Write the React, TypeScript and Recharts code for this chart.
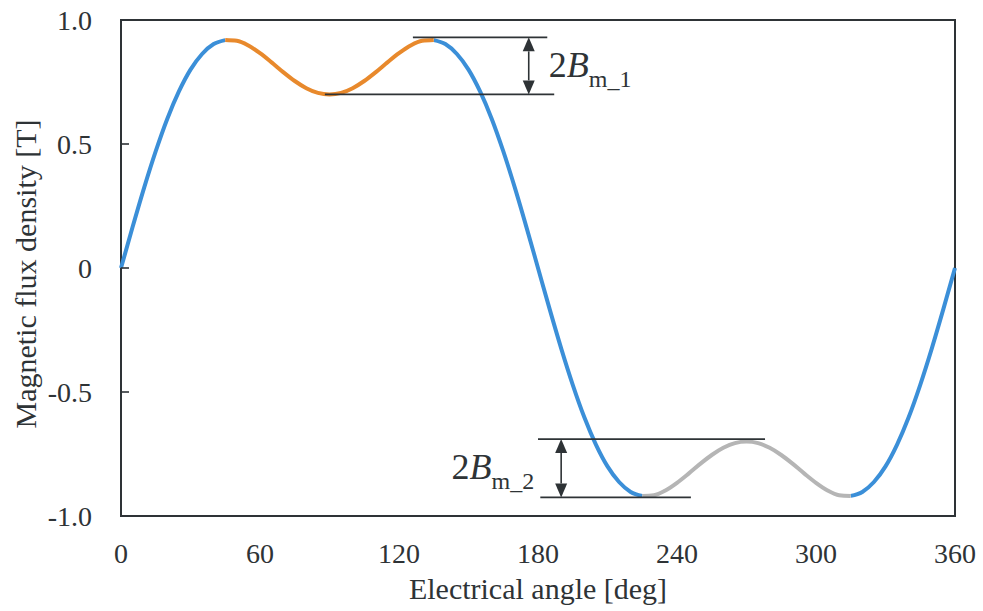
import React from "react";
import {
  LineChart,
  Line,
  XAxis,
  YAxis,
  ReferenceLine,
  ReferenceArea,
} from "recharts";

// Electrical angle samples [deg]
const angles = [
  0, 5, 10, 15, 20, 25, 30, 35, 40, 45, 50, 55, 60, 65, 70, 75, 80, 85, 90,
  95, 100, 105, 110, 115, 120, 125, 130, 135, 140, 145, 150, 155, 160, 165,
  170, 175, 180, 185, 190, 195, 200, 205, 210, 215, 220, 225, 230, 235, 240,
  245, 250, 255, 260, 265, 270, 275, 280, 285, 290, 295, 300, 305, 310, 315,
  320, 325, 330, 335, 340, 345, 350, 355, 360,
];

// Magnetic flux density [T] at each angle
const flux = [
  0, 0.165, 0.324, 0.471, 0.602, 0.712, 0.8, 0.863, 0.903, 0.919, 0.916,
  0.897, 0.866, 0.829, 0.79, 0.754, 0.725, 0.706, 0.7, 0.706, 0.725, 0.754,
  0.79, 0.829, 0.866, 0.897, 0.916, 0.919, 0.903, 0.863, 0.8, 0.712, 0.602,
  0.471, 0.324, 0.165, 0, -0.165, -0.324, -0.471, -0.602, -0.712, -0.8,
  -0.863, -0.903, -0.919, -0.916, -0.897, -0.866, -0.829, -0.79, -0.754,
  -0.725, -0.706, -0.7, -0.706, -0.725, -0.754, -0.79, -0.829, -0.866,
  -0.897, -0.916, -0.919, -0.903, -0.863, -0.8, -0.712, -0.602, -0.471,
  -0.324, -0.165, 0,
];

// Highlighted ripple ranges [deg]
const upperRipple = [45, 135];
const lowerRipple = [225, 315];

const xTicks = [0, 60, 120, 180, 240, 300, 360];
const yTicks = [-1, -0.5, 0, 0.5, 1];

// Ripple amplitude guide levels [T] and their extents [deg]
const upperGuide = { top: 0.93, bottom: 0.7, topFrom: 126, topTo: 184, bottomFrom: 88, bottomTo: 187, arrowAt: 176 };
const lowerGuide = { top: -0.69, bottom: -0.925, topFrom: 180, topTo: 278, bottomFrom: 181, bottomTo: 246, arrowAt: 190 };

const BLUE = "#3b8fd8";
const ORANGE = "#e8892c";
const GRAY = "#b5b5b5";
const INK = "#2e3336";
const FONT = "'Liberation Serif', 'Times New Roman', serif";

const inRange = (a: number, r: number[]) => a >= r[0] && a <= r[1];

const rows = angles.map((a, i) => {
  const v = flux[i];
  const up = inRange(a, upperRipple);
  const low = inRange(a, lowerRipple);
  const base = !up && !low || a === upperRipple[0] || a === upperRipple[1] || a === lowerRipple[0] || a === lowerRipple[1];
  return {
    angle: a,
    base: base ? v : null,
    upper: up ? v : null,
    lower: low ? v : null,
  };
});

const yFormat = (v: number) => (v === 0 ? "0" : v.toFixed(1));

const makeArrow = (sub: string, side: "right" | "left") => (props: any) => {
  const { x1, y1, y2 } = props;
  const top = Math.min(y1, y2);
  const bot = Math.max(y1, y2);
  const hw = 6;
  const hh = 14;
  const mid = (top + bot) / 2;
  const tx = side === "right" ? x1 + 20 : x1 - 27;
  return (
    <g>
      <line x1={x1} y1={top + hh} x2={x1} y2={bot - hh} stroke={INK} strokeWidth={1.6} />
      <polygon points={`${x1},${top} ${x1 - hw},${top + hh} ${x1 + hw},${top + hh}`} fill={INK} />
      <polygon points={`${x1},${bot} ${x1 - hw},${bot - hh} ${x1 + hw},${bot - hh}`} fill={INK} />
      <text
        x={tx}
        y={mid + 11}
        fontFamily={FONT}
        fontSize={36}
        fill={INK}
        textAnchor={side === "right" ? "start" : "end"}
      >
        <tspan>2</tspan>
        <tspan fontStyle="italic">B</tspan>
        <tspan fontSize={24} dy={10}>{sub}</tspan>
      </text>
    </g>
  );
};

const XTitle = (props: any) => {
  const { viewBox } = props;
  return (
    <text
      x={viewBox.x + viewBox.width / 2}
      y={viewBox.y + 83}
      textAnchor="middle"
      fontFamily={FONT}
      fontSize={30}
      fill={INK}
    >
      Electrical angle [deg]
    </text>
  );
};

const YTitle = (props: any) => {
  const { viewBox } = props;
  const cx = viewBox.x + 36;
  const cy = viewBox.y + viewBox.height / 2 + 6;
  return (
    <text
      x={cx}
      y={cy}
      transform={`rotate(-90, ${cx}, ${cy})`}
      textAnchor="middle"
      fontFamily={FONT}
      fontSize={30}
      fill={INK}
    >
      Magnetic flux density [T]
    </text>
  );
};

export default function App() {
  return (
    <div style={{ position: "absolute", left: 0, top: 0, width: 983, height: 611, background: "#fff" }}>
      <LineChart
        width={983}
        height={611}
        data={rows}
        margin={{ top: 20, right: 28, left: 0, bottom: 0 }}
      >
        <XAxis
          dataKey="angle"
          type="number"
          domain={[0, 360]}
          ticks={xTicks}
          height={95}
          axisLine={false}
          tickLine={false}
          tickSize={0}
          tickMargin={27}
          tick={{ fontFamily: FONT, fontSize: 28, fill: INK }}
          label={<XTitle />}
        />
        <YAxis
          type="number"
          domain={[-1, 1]}
          ticks={yTicks}
          width={121}
          axisLine={false}
          tickLine={{ stroke: INK, strokeWidth: 1.6 }}
          tickSize={-8}
          tickMargin={37}
          tickFormatter={yFormat}
          tick={{ fontFamily: FONT, fontSize: 28, fill: INK }}
          label={<YTitle />}
        />
        <ReferenceArea
          x1={0}
          x2={360}
          y1={-1}
          y2={1}
          fill="none"
          stroke={INK}
          strokeWidth={2}
        />
        <Line dataKey="base" type="monotone" stroke={BLUE} strokeWidth={4} dot={false} isAnimationActive={false} connectNulls={false} />
        <Line dataKey="upper" type="monotone" stroke={ORANGE} strokeWidth={4} dot={false} isAnimationActive={false} connectNulls={false} />
        <Line dataKey="lower" type="monotone" stroke={GRAY} strokeWidth={4} dot={false} isAnimationActive={false} connectNulls={false} />

        <ReferenceLine
          segment={[{ x: upperGuide.topFrom, y: upperGuide.top }, { x: upperGuide.topTo, y: upperGuide.top }]}
          stroke={INK}
          strokeWidth={1.8}
        />
        <ReferenceLine
          segment={[{ x: upperGuide.bottomFrom, y: upperGuide.bottom }, { x: upperGuide.bottomTo, y: upperGuide.bottom }]}
          stroke={INK}
          strokeWidth={1.8}
        />
        <ReferenceLine
          segment={[{ x: upperGuide.arrowAt, y: upperGuide.top }, { x: upperGuide.arrowAt, y: upperGuide.bottom }]}
          shape={makeArrow("m_1", "right")}
        />
        <ReferenceLine
          segment={[{ x: lowerGuide.topFrom, y: lowerGuide.top }, { x: lowerGuide.topTo, y: lowerGuide.top }]}
          stroke={INK}
          strokeWidth={1.8}
        />
        <ReferenceLine
          segment={[{ x: lowerGuide.bottomFrom, y: lowerGuide.bottom }, { x: lowerGuide.bottomTo, y: lowerGuide.bottom }]}
          stroke={INK}
          strokeWidth={1.8}
        />
        <ReferenceLine
          segment={[{ x: lowerGuide.arrowAt, y: lowerGuide.top }, { x: lowerGuide.arrowAt, y: lowerGuide.bottom }]}
          shape={makeArrow("m_2", "left")}
        />
      </LineChart>
    </div>
  );
}
